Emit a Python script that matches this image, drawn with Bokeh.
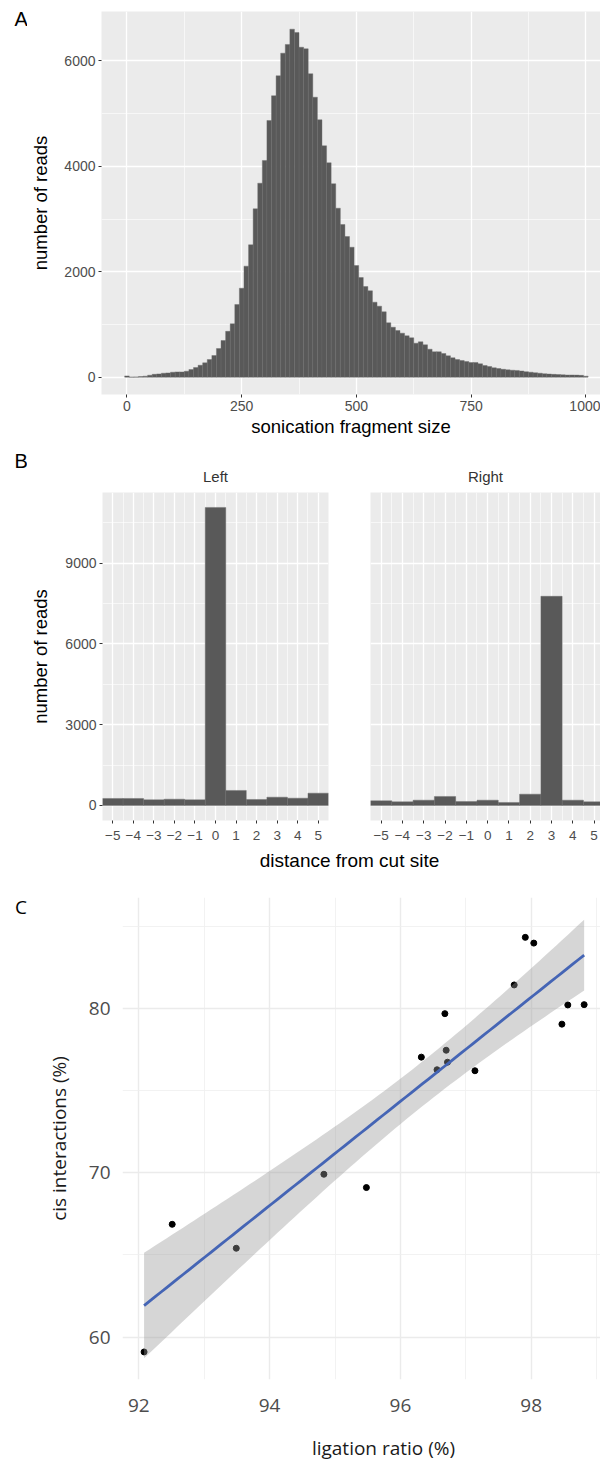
import numpy as np
from bokeh.plotting import figure
from bokeh.layouts import column, row
from bokeh.models import FixedTicker, Label, Range1d
from bokeh.embed import file_html
from bokeh.resources import INLINE

SANS = "Liberation Sans"
OPEN = "Open Sans"
BAR = "#595959"
PAGE_H = 1459
STRIP_W = 27  # narrow column on the left that carries the panel letters

# ---- A: sonication fragment sizes (10 bp bins, labelled by bin centre) ----
BIN_WIDTH = 10
fragment_size = list(range(0, 1001, 10))
fragment_reads = [
    25, 3, 6, 12, 20, 38, 55, 63, 76, 82,
    95, 101, 100, 114, 145, 183, 227, 272, 335, 411,
    544, 696, 870, 1012, 1379, 1688, 2106, 2511, 3193, 3679,
    4110, 4868, 5337, 5716, 6145, 6310, 6600, 6537, 6258, 6228,
    5754, 5310, 4881, 4388, 4066, 3668, 3205, 2896, 2668, 2465,
    2118, 1890, 1720, 1638, 1423, 1347, 1240, 1032, 948, 886,
    835, 785, 747, 645, 671, 614, 531, 482, 482, 449,
    406, 368, 336, 317, 298, 279, 279, 254, 222, 203,
    178, 165, 150, 140, 133, 128, 118, 105, 95, 85,
    76, 66, 60, 54, 50, 46, 41, 42, 40, 35, 20,
]
size_ticks = [0, 250, 500, 750, 1000]
size_minor = [125, 375, 625, 875]
reads_ticks_a = [0, 2000, 4000, 6000]
reads_minor_a = [1000, 3000, 5000]

# ---- B: reads by distance from the cut site ----
cut_distance = [-5, -4, -3, -2, -1, 0, 1, 2, 3, 4, 5]
reads_left = [260, 260, 211, 235, 211, 11070, 558, 223, 310, 273, 458]
reads_right = [174, 136, 198, 335, 149, 198, 112, 421, 7770, 198, 136]
distance_labels = ["\u22125", "\u22124", "\u22123", "\u22122", "\u22121", "0", "1", "2", "3", "4", "5"]
distance_minor = [-4.5, -3.5, -2.5, -1.5, -0.5, 0.5, 1.5, 2.5, 3.5, 4.5]
reads_ticks_b = [0, 3000, 6000, 9000]
reads_minor_b = [1500, 4500, 7500, 10500]

# ---- C: cis interactions against ligation ratio ----
ligation_ratio = [97.91, 98.04, 97.74, 96.68, 98.56, 98.81, 98.47, 96.32, 96.70,
                  96.72, 96.56, 97.14, 94.83, 95.48, 92.51, 93.49, 92.08]
cis_interactions = [84.36, 84.01, 81.46, 79.71, 80.24, 80.26, 79.07, 77.06, 77.48,
                    76.75, 76.29, 76.23, 69.92, 69.11, 66.87, 65.41, 59.09]
ratio_ticks = [92, 94, 96, 98]
ratio_minor = [93, 95, 97, 99]
cis_ticks = [60, 70, 80]
cis_minor = [65, 75, 85]

panel_letters = ["A", "B", "C"]


def style_axes(p, font, label_size, title_size, label_color, title_color):
    for ax in (p.xaxis, p.yaxis):
        ax.axis_line_color = None
        ax.minor_tick_line_color = None
        ax.major_label_text_font = font
        ax.major_label_text_font_size = label_size
        ax.major_label_text_color = label_color
        ax.axis_label_text_font = font
        ax.axis_label_text_font_size = title_size
        ax.axis_label_text_font_style = "normal"
        ax.axis_label_text_color = title_color


def set_ticks(p, xt, xm, yt, ym):
    xtick = FixedTicker(ticks=xt, minor_ticks=xm)
    ytick = FixedTicker(ticks=yt, minor_ticks=ym)
    p.xaxis.ticker = xtick
    p.xgrid.ticker = xtick
    p.yaxis.ticker = ytick
    p.ygrid.ticker = ytick


def grey_panel(p):
    p.background_fill_color = "#EBEBEB"
    p.border_fill_color = "white"
    p.outline_line_color = None
    for g in (p.xgrid, p.ygrid):
        g.grid_line_color = "white"
        g.grid_line_width = 1.3
        g.minor_grid_line_color = "white"
        g.minor_grid_line_width = 0.6
    style_axes(p, SANS, "14px", "18.5px", "#4D4D4D", "black")
    for ax in (p.xaxis, p.yaxis):
        ax.major_tick_line_color = "#333333"
        ax.major_tick_line_width = 1
        ax.major_tick_in = 0
        ax.major_tick_out = 3
        ax.major_label_standoff = 2


def text_strip(width, height, text, x, y, font, size, color="black", align="center"):
    """A bare figure whose frame fills it, used to hold free-standing text."""
    s = figure(width=width, height=height, x_range=Range1d(0, width), y_range=Range1d(0, height),
               x_axis_type=None, y_axis_type=None, toolbar_location=None,
               output_backend="svg", min_border=0, outline_line_color=None)
    s.background_fill_color = "white"
    s.border_fill_color = "white"
    for t, xx, yy, f, fs in zip(text, x, y, font, size):
        s.add_layout(Label(x=xx, y=yy, text=t, text_font=f, text_font_size=fs,
                           text_color=color, text_align=align, text_baseline="middle"))
    return s


# ---------------- A ----------------
pA = figure(width=600 - STRIP_W, height=440, x_range=Range1d(-55.5, 1032), y_range=Range1d(-328, 6935),
            toolbar_location=None, output_backend="svg",
            min_border_left=97 - STRIP_W, min_border_right=0, min_border_top=11, min_border_bottom=46)
grey_panel(pA)
set_ticks(pA, size_ticks, size_minor, reads_ticks_a, reads_minor_a)
pA.quad(left=[s - BIN_WIDTH / 2 for s in fragment_size],
        right=[s + BIN_WIDTH / 2 for s in fragment_size],
        bottom=0, top=fragment_reads,
        fill_color=BAR, line_color="#6B6B6B", line_width=0.4)
pA.xaxis.axis_label = "sonication fragment size"
pA.yaxis.axis_label = "number of reads"
pA.xaxis.axis_label_standoff = 2
pA.yaxis.axis_label_standoff = 10

# ---------------- B ----------------
reads_range_b = Range1d(-558, 11625)


def facet(name, counts, width, xr, left, right):
    p = figure(width=width, height=407, x_range=xr, y_range=reads_range_b,
               toolbar_location=None, output_backend="svg", title=name,
               min_border_left=left, min_border_right=right,
               min_border_top=52, min_border_bottom=27)
    grey_panel(p)
    set_ticks(p, cut_distance, distance_minor, reads_ticks_b, reads_minor_b)
    p.xaxis.major_label_overrides = {d: s for d, s in zip(cut_distance, distance_labels)}
    p.xaxis.major_label_text_font_size = "13.5px"
    p.xaxis.major_label_standoff = 6
    p.vbar(x=cut_distance, top=counts, width=1, bottom=0,
           fill_color=BAR, line_color="#6B6B6B", line_width=0.4)
    p.title.align = "center"
    p.title.text_font = SANS
    p.title.text_font_size = "15px"
    p.title.text_font_style = "normal"
    p.title.text_color = "#333333"
    p.title.standoff = 15
    return p


pBL = facet("Left", reads_left, 349 - STRIP_W, Range1d(-5.5, 5.5), 99 - STRIP_W, 21)
pBL.yaxis.axis_label = "number of reads"
pBL.yaxis.axis_label_standoff = 11

pBR = facet("Right", reads_right, 251, Range1d(-5.5, 5.3), 21, 0)
pBR.yaxis.visible = False

# shared x title under both facets
pBt = text_strip(600 - STRIP_W, 33, ["distance from cut site"], [349 - STRIP_W], [20],
                 [SANS], ["19px"])

# ---------------- C ----------------
x = np.array(ligation_ratio)
y = np.array(cis_interactions)
n = len(x)
slope, intercept = np.polyfit(x, y, 1)
xs = np.linspace(x.min(), x.max(), 80)
fit = intercept + slope * xs
resid = y - (intercept + slope * x)
s_err = np.sqrt(np.sum(resid ** 2) / (n - 2))
se = s_err * np.sqrt(1 / n + (xs - x.mean()) ** 2 / np.sum((x - x.mean()) ** 2))
t_crit = 2.131  # Student t, 0.975 quantile, 15 degrees of freedom
lower = fit - t_crit * se
upper = fit + t_crit * se

pC = figure(width=600 - STRIP_W, height=550, x_range=Range1d(91.75, 99.06), y_range=Range1d(57.41, 86.79),
            toolbar_location=None, output_backend="svg",
            min_border_left=122 - STRIP_W, min_border_right=0, min_border_top=17, min_border_bottom=51)
pC.background_fill_color = "white"
pC.border_fill_color = "white"
pC.outline_line_color = None
set_ticks(pC, ratio_ticks, ratio_minor, cis_ticks, cis_minor)
for g in (pC.xgrid, pC.ygrid):
    g.grid_line_color = "#EBEBEB"
    g.grid_line_width = 1.4
    g.minor_grid_line_color = "#EFEFEF"
    g.minor_grid_line_width = 0.8
style_axes(pC, OPEN, "19px", "19px", "#4D4D4D", "#1A1A1A")
for ax in (pC.xaxis, pC.yaxis):
    ax.major_tick_line_color = None
    ax.major_tick_out = 0
    ax.major_tick_in = 0
pC.xaxis.major_label_standoff = 15
pC.yaxis.major_label_standoff = 8
pC.yaxis.axis_label = "cis interactions (%)"
pC.yaxis.axis_label_standoff = 14

pC.scatter(ligation_ratio, cis_interactions, size=6, color="black")
pC.varea(x=xs, y1=lower, y2=upper, fill_color="#999999", fill_alpha=0.4)
pC.line(xs, fit, line_color="#4565B5", line_width=2.8)

pCt = text_strip(600 - STRIP_W, 29, ["ligation ratio (%)"], [383 - STRIP_W], [12],
                 [OPEN], ["19px"], color="#1A1A1A")

# letters column: positions measured from the top of the page
letters = text_strip(STRIP_W, PAGE_H, panel_letters, [14, 14, 14.5],
                     [PAGE_H - 18, PAGE_H - 460, PAGE_H - 906],
                     [SANS, SANS, OPEN], ["20px", "20px", "19px"], align="left")

right_side = column(row(pA), row(pBL, pBR, spacing=0), row(pBt), row(pC), row(pCt), spacing=0)
layout = row(letters, right_side, spacing=0)
open("out.html", "w").write(file_html(layout, INLINE))
